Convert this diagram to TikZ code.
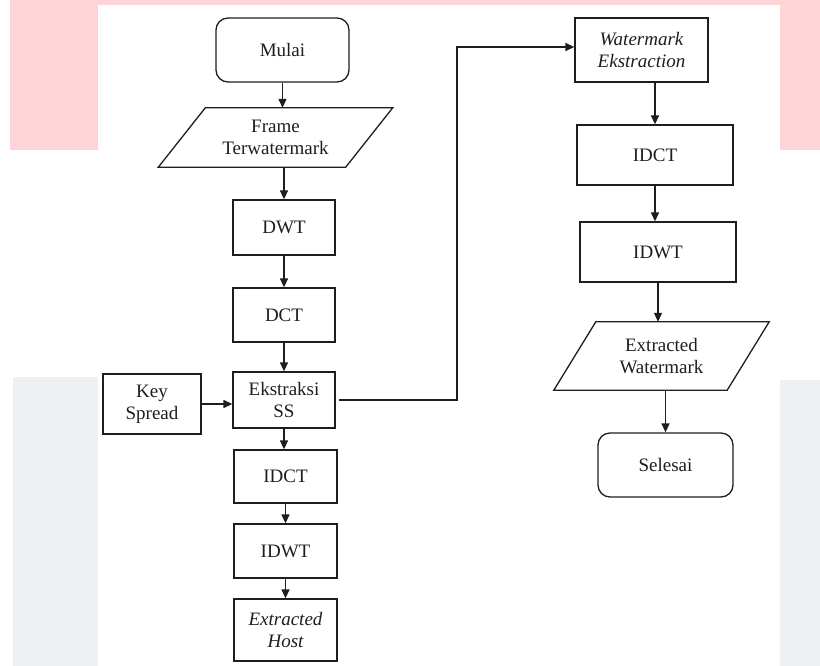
\documentclass[tikz,border=0pt]{standalone}
\usepackage{fontspec}
\setmainfont{Liberation Serif}
\newfontfamily\diaserif{Liberation Serif}
\usetikzlibrary{arrows.meta,calc}
\definecolor{bandpink}{RGB}{254,212,214}
\definecolor{bandgray}{RGB}{238,241,242}
\definecolor{ink}{RGB}{30,30,30}
\begin{document}
\begin{tikzpicture}[x=1pt,y=-1pt,
  every node/.style={font=\diaserif\fontsize{19}{22}\selectfont, align=center, inner sep=0pt, text=ink},
  boxnode/.style={draw=ink, line width=1.3pt, rectangle},
  roundnode/.style={draw=ink, line width=1.3pt, rectangle, rounded corners=12pt},
  paranode/.style={rectangle, draw=none},
  edge/.style={draw=ink, line width=1.3pt},
  arr/.style={edge, -{Triangle[length=9pt,width=8pt]}}
]
% background
\fill[white] (0,0) rectangle (820,666);
\useasboundingbox (0,0) rectangle (820,666);
\fill[bandpink] (10,0) rectangle (98,150);
\fill[bandpink] (98,0) rectangle (780,5);
\fill[bandpink] (780,0) rectangle (820,150);
\fill[bandgray] (13,377) rectangle (98,666);
\fill[bandgray] (780,380) rectangle (820,666);

% left column
\node[roundnode, minimum width=133pt, minimum height=64pt] (mulai) at (282.5,50) {Mulai};
\node[paranode, minimum width=187pt, minimum height=59pt] (frame) at (275.5,137.5) {Frame\\Terwatermark};
\draw[edge] ([xshift=-23.5pt]frame.south west) -- ([xshift=-23.5pt]frame.south east)
  -- ([xshift=23.5pt]frame.north east) -- ([xshift=23.5pt]frame.north west) -- cycle;
\node[boxnode, minimum width=102pt, minimum height=55pt] (dwt) at (284,227.5) {DWT};
\node[boxnode, minimum width=102pt, minimum height=54pt] (dct) at (284,315) {DCT};
\node[boxnode, minimum width=102pt, minimum height=56pt] (eks) at (284,400) {Ekstraksi\\SS};
\node[boxnode, minimum width=98pt, minimum height=60pt] (key) at (152,404) {Key\\Spread};
\node[boxnode, minimum width=103pt, minimum height=53pt] (idcta) at (285.5,476.5) {IDCT};
\node[boxnode, minimum width=103pt, minimum height=54pt] (idwta) at (285.5,551) {IDWT};
\node[boxnode, minimum width=103pt, minimum height=62pt] (host) at (285.5,630) {\itshape Extracted\\\itshape Host};

% right column
\node[boxnode, minimum width=133pt, minimum height=64pt] (wme) at (641.5,50) {\itshape Watermark\\\itshape Ekstraction};
\node[boxnode, minimum width=156pt, minimum height=60pt] (idctb) at (655,155) {IDCT};
\node[boxnode, minimum width=156pt, minimum height=60pt] (idwtb) at (658,252) {IDWT};
\node[paranode, minimum width=173pt, minimum height=68pt] (exwm) at (661.5,356) {Extracted\\Watermark};
\draw[edge] ([xshift=-21pt]exwm.south west) -- ([xshift=-21pt]exwm.south east)
  -- ([xshift=21pt]exwm.north east) -- ([xshift=21pt]exwm.north west) -- cycle;
\node[roundnode, minimum width=135pt, minimum height=64pt] (selesai) at (665.5,465) {Selesai};

% connectors
\draw[arr] (mulai.south) -- (mulai.south |- frame.north);
\draw[arr] (dwt.north |- frame.south) -- (dwt.north);
\draw[arr] (dwt.south) -- (dct.north);
\draw[arr] (dct.south) -- (eks.north);
\draw[arr] (key.east) -- (key.east -| eks.west);
\draw[arr] (eks.south) -- (eks.south |- idcta.north);
\draw[arr] (idcta.south) -- (idwta.north);
\draw[arr] (idwta.south) -- (host.north);
\coordinate (bend) at (457,400);
\draw[arr] ([xshift=3pt]eks.east) -- (bend) |- ([yshift=3pt]wme.west);
\draw[arr] (idctb.north |- wme.south) -- (idctb.north);
\draw[arr] (idctb.south) -- (idctb.south |- idwtb.north);
\draw[arr] (idwtb.south) -- (idwtb.south |- exwm.north);
\draw[arr] (selesai.north |- exwm.south) -- (selesai.north);
\end{tikzpicture}
\end{document}
